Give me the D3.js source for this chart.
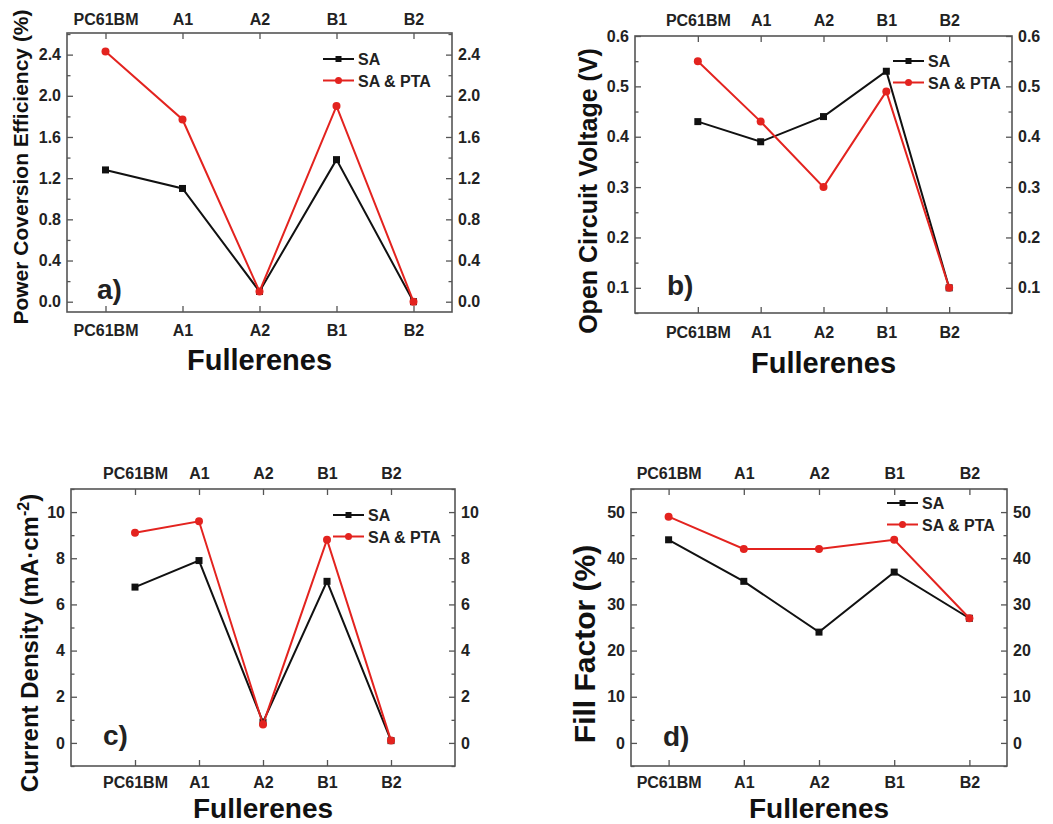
<!DOCTYPE html>
<html>
<head>
<meta charset="utf-8">
<script src="https://cdn.jsdelivr.net/npm/d3@7"></script>
<style>
  body { margin: 0; background: #fff; }
  svg { display: block; font-family: "Liberation Sans", Arial, sans-serif; font-weight: bold; }
</style>
</head>
<body>
<div class="chart"></div>
<script>
// categories and series
const categories = ["PC61BM", "A1", "A2", "B1", "B2"];
const seriesNames = ["SA", "SA & PTA"];

// a) power conversion efficiency (%)
const pceSA = [1.28, 1.10, 0.10, 1.38, 0.0];
const pcePTA = [2.43, 1.77, 0.10, 1.90, 0.0];
const pceTicks = [0.0, 0.4, 0.8, 1.2, 1.6, 2.0, 2.4];

// b) open circuit voltage (V)
const vocSA = [0.43, 0.39, 0.44, 0.53, 0.10];
const vocPTA = [0.55, 0.43, 0.30, 0.49, 0.10];
const vocTicks = [0.1, 0.2, 0.3, 0.4, 0.5, 0.6];

// c) current density
const jscSA = [6.75, 7.9, 0.9, 7.0, 0.1];
const jscPTA = [9.1, 9.6, 0.8, 8.8, 0.1];
const jscTicks = [0, 2, 4, 6, 8, 10];

// d) fill factor (%)
const ffSA = [44, 35, 24, 37, 27];
const ffPTA = [49, 42, 42, 44, 27];
const ffTicks = [0, 10, 20, 30, 40, 50];

const W = 1053, H = 824;
const black = "#111", red = "#e3231f", frameCol = "#555";

const svg = d3.select('.chart').append('svg')
    .attr('width', W)
    .attr('height', H);

const panels = [
  { tag: "a)", sa: pceSA, pta: pcePTA, ticks: pceTicks, minorStep: 0.2, fmt: d3.format(".1f"),
    yDom: [-0.1, 2.61], xDom: [-0.5, 4.5],
    box: [67, 33, 452, 312], topPad: 8, botPad: 13,
    legend: [323, 59], tagPos: [97, 299],
    ylab: { x: 28, y: 167, size: 21, text: "Power Coversion Efficiency (%)" },
    xlab: 370, xlabSize: 29 },
  { tag: "b)", sa: vocSA, pta: vocPTA, ticks: vocTicks, minorStep: 0.05, fmt: d3.format(".1f"),
    yDom: [0.05, 0.6], xDom: [-1, 5],
    box: [635, 36, 1012, 313], topPad: 10, botPad: 14,
    legend: [893, 61], tagPos: [667, 295],
    ylab: { x: 597, y: 191, size: 25, text: "Open Circuit Voltage (V)" },
    xlab: 373, xlabSize: 29 },
  { tag: "c)", sa: jscSA, pta: jscPTA, ticks: jscTicks, minorStep: 1, fmt: d3.format("d"),
    yDom: [-1, 11], xDom: [-1, 5],
    box: [71, 489, 455, 766], topPad: 10, botPad: 11,
    legend: [333, 515], tagPos: [103, 745],
    ylab: { x: 38, y: 643, size: 24, text: "Current Density (mA·cm", sup: "-2", tail: ")" },
    xlab: 818, xlabSize: 28 },
  { tag: "d)", sa: ffSA, pta: ffPTA, ticks: ffTicks, minorStep: 5, fmt: d3.format("d"),
    yDom: [-5, 55], xDom: [-0.5, 4.5],
    box: [631, 489, 1007, 766], topPad: 10, botPad: 11,
    legend: [887, 503], tagPos: [663, 746],
    ylab: { x: 595, y: 644, size: 30, text: "Fill Factor (%)" },
    xlab: 818, xlabSize: 28 }
];

panels.forEach(p => {
    const [x0, y0, x1, y1] = p.box;
    const x = d3.scaleLinear().domain(p.xDom).range([x0, x1]);
    const y = d3.scaleLinear().domain(p.yDom).range([y1, y0]);
    const g = svg.append('g');

    // minor tick values
    const minor = d3.range(Math.ceil(p.yDom[0] / p.minorStep), Math.floor(p.yDom[1] / p.minorStep) + 1)
        .map(k => +(k * p.minorStep).toFixed(4))
        .filter(v => !p.ticks.some(t => Math.abs(t - v) < 1e-6));

    const idx = d3.range(categories.length);

    const styleAxis = (sel, size) => {
        sel.select('.domain').remove();
        sel.selectAll('line').attr('stroke', frameCol).attr('stroke-width', 1.3);
        sel.selectAll('text').attr('fill', '#222').style('font-size', size + 'px').style('font-weight', 'bold');
    };

    // y axes left/right, major + minor
    g.append('g').attr('transform', `translate(${x0},0)`)
        .call(d3.axisLeft(y).tickValues(p.ticks).tickFormat(p.fmt).tickSizeInner(-6).tickSizeOuter(0).tickPadding(6))
        .call(s => styleAxis(s, 16));
    g.append('g').attr('transform', `translate(${x0},0)`)
        .call(d3.axisLeft(y).tickValues(minor).tickFormat('').tickSizeInner(-3.5).tickSizeOuter(0))
        .call(s => styleAxis(s, 16));
    g.append('g').attr('transform', `translate(${x1},0)`)
        .call(d3.axisRight(y).tickValues(p.ticks).tickFormat(p.fmt).tickSizeInner(-6).tickSizeOuter(0).tickPadding(6))
        .call(s => styleAxis(s, 16));
    g.append('g').attr('transform', `translate(${x1},0)`)
        .call(d3.axisRight(y).tickValues(minor).tickFormat('').tickSizeInner(-3.5).tickSizeOuter(0))
        .call(s => styleAxis(s, 16));

    // x axes top/bottom with category labels
    g.append('g').attr('transform', `translate(0,${y0})`)
        .call(d3.axisTop(x).tickValues(idx).tickFormat(i => categories[i]).tickSizeInner(-6).tickSizeOuter(0).tickPadding(p.topPad))
        .call(s => styleAxis(s, 16));
    g.append('g').attr('transform', `translate(0,${y1})`)
        .call(d3.axisBottom(x).tickValues(idx).tickFormat(i => categories[i]).tickSizeInner(-6).tickSizeOuter(0).tickPadding(p.botPad))
        .call(s => styleAxis(s, 16));

    // frame
    g.append('rect')
        .attr('x', x0).attr('y', y0)
        .attr('width', x1 - x0).attr('height', y1 - y0)
        .attr('fill', 'none').attr('stroke', frameCol).attr('stroke-width', 1.6);

    // series
    const line = d3.line().x((d, i) => x(i)).y(d => y(d));
    const series = [
        { name: seriesNames[0], vals: p.sa, col: black, shape: 'square' },
        { name: seriesNames[1], vals: p.pta, col: red, shape: 'circle' }
    ];
    series.forEach(s => {
        g.append('path').datum(s.vals)
            .attr('d', line)
            .attr('fill', 'none').attr('stroke', s.col).attr('stroke-width', 2);
        if (s.shape === 'square') {
            g.selectAll(null).data(s.vals).enter().append('rect')
                .attr('x', (d, i) => x(i) - 3.5).attr('y', d => y(d) - 3.5)
                .attr('width', 7).attr('height', 7).attr('fill', s.col);
        } else {
            g.selectAll(null).data(s.vals).enter().append('circle')
                .attr('cx', (d, i) => x(i)).attr('cy', d => y(d))
                .attr('r', 4).attr('fill', s.col);
        }
    });

    // legend
    const [lx, ly] = p.legend;
    series.forEach((s, k) => {
        const yy = ly + k * 21.5;
        g.append('line').attr('x1', lx).attr('x2', lx + 31).attr('y1', yy).attr('y2', yy)
            .attr('stroke', s.col).attr('stroke-width', 2);
        if (s.shape === 'square') {
            g.append('rect').attr('x', lx + 15.5 - 3).attr('y', yy - 3).attr('width', 6).attr('height', 6).attr('fill', s.col);
        } else {
            g.append('circle').attr('cx', lx + 15.5).attr('cy', yy).attr('r', 3.5).attr('fill', s.col);
        }
        g.append('text').attr('x', lx + 35).attr('y', yy + 6)
            .attr('fill', '#222').style('font-size', '16px').text(s.name);
    });

    // panel tag
    g.append('text').attr('x', p.tagPos[0]).attr('y', p.tagPos[1])
        .attr('fill', '#222').style('font-size', '28px').text(p.tag);

    // x title
    g.append('text').attr('x', (x0 + x1) / 2).attr('y', p.xlab)
        .attr('text-anchor', 'middle').attr('fill', '#111')
        .style('font-size', p.xlabSize + 'px').text('Fullerenes');

    // y title
    const yt = g.append('text')
        .attr('transform', `translate(${p.ylab.x},${p.ylab.y}) rotate(-90)`)
        .attr('text-anchor', 'middle').attr('fill', '#111')
        .style('font-size', p.ylab.size + 'px');
    yt.append('tspan').text(p.ylab.text);
    if (p.ylab.sup) {
        yt.append('tspan').attr('dy', -9).style('font-size', '16px').text(p.ylab.sup);
        yt.append('tspan').attr('dy', 9).text(p.ylab.tail);
    }
});
</script>
</body>
</html>
